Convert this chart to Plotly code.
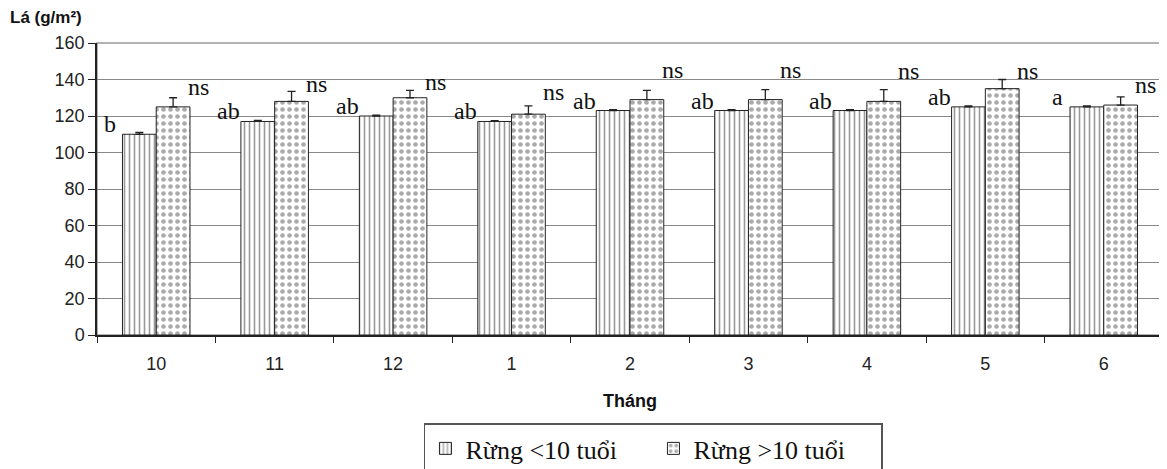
import plotly.graph_objects as go

months = ["10", "11", "12", "1", "2", "3", "4", "5", "6"]
young = [110, 117, 120, 117, 123, 123, 123, 125, 125]
old = [125, 128, 130, 121, 129, 129, 128, 135, 126]
young_err = [1, 0.6, 0.5, 0.5, 0.5, 0.5, 0.5, 0.6, 0.6]
old_err = [5, 5.5, 4, 4.5, 5, 5.5, 6.5, 5, 4.5]
young_letters = ["b", "ab", "ab", "ab", "ab", "ab", "ab", "ab", "a"]
old_letters = ["ns"] * 9
old_label_y = [136, 137.5, 138.6, 133, 145, 145, 144.6, 144.6, 137]
names = ["Rừng <10 tuổi", "Rừng >10 tuổi"]

serif = "Liberation Serif, Times New Roman, serif"
sans = "Liberation Sans, Arial, sans-serif"

fig = go.Figure()
fig.add_trace(go.Bar(
    x=months, y=young, name=names[0],
    marker=dict(color="white", line=dict(color="#222", width=1),
                pattern=dict(shape="|", size=5, solidity=0.32, fgcolor="#333", bgcolor="white")),
    error_y=dict(type="data", symmetric=False, array=young_err, arrayminus=[0] * 9,
                 color="#222", thickness=1.3, width=4),
))
fig.add_trace(go.Bar(
    x=months, y=old, name=names[1],
    marker=dict(color="white", line=dict(color="#222", width=1),
                pattern=dict(shape=".", size=7, solidity=0.35, fgcolor="#555", bgcolor="white")),
    error_y=dict(type="data", symmetric=False, array=old_err, arrayminus=[0] * 9,
                 color="#222", thickness=1.3, width=4),
))

for i, (v, t) in enumerate(zip(young, young_letters)):
    fig.add_annotation(x=i, y=v, text=t, showarrow=False, xshift=-46, yshift=10,
                       yanchor="middle", font=dict(family=serif, size=24, color="#111"))
for i, (ly, t) in enumerate(zip(old_label_y, old_letters)):
    fig.add_annotation(x=i, y=ly, text=t, showarrow=False, xshift=42,
                       yanchor="middle", font=dict(family=serif, size=24, color="#111"))

fig.add_annotation(xref="paper", yref="paper", x=-0.0835, y=1.086, xanchor="left", yanchor="middle",
                   text="<b>Lá (g/m²)</b>", showarrow=False, font=dict(family=sans, size=17, color="#111"))
fig.add_annotation(xref="paper", yref="paper", x=0.5, y=-0.225, xanchor="center", yanchor="middle",
                   text="<b>Tháng</b>", showarrow=False, font=dict(family=sans, size=18, color="#111"))

fig.add_shape(type="rect", xref="paper", yref="paper", x0=0, x1=1, y0=0, y1=1,
              line=dict(color="#999", width=1.5), layer="below")

fig.update_layout(
    width=1159, height=469,
    margin=dict(l=89, r=4, t=35, b=142),
    paper_bgcolor="white", plot_bgcolor="white",
    barmode="group", bargap=0.43, bargroupgap=0,
    showlegend=True,
    legend=dict(orientation="h", x=0.522, xanchor="center", y=-0.303, yanchor="top",
                bordercolor="#555", borderwidth=1.5, bgcolor="white",
                font=dict(family=serif, size=26, color="#111"), itemwidth=30,
                entrywidth=183),
    xaxis=dict(type="category", showline=True, linecolor="#222", linewidth=1.5,
               ticks="outside", tickson="boundaries", ticklen=6, tickcolor="#222",
               ticklabelstandoff=12,
               tickfont=dict(family=sans, size=18, color="#222"), showgrid=False),
    yaxis=dict(range=[0, 160], dtick=20, showline=True, linecolor="#222", linewidth=1.5,
               ticks="outside", ticklen=7, tickcolor="#222",
               tickfont=dict(family=sans, size=18, color="#222"),
               showgrid=True, gridcolor="#888", gridwidth=1.2, zeroline=False),
)

fig.write_html("out.html")
